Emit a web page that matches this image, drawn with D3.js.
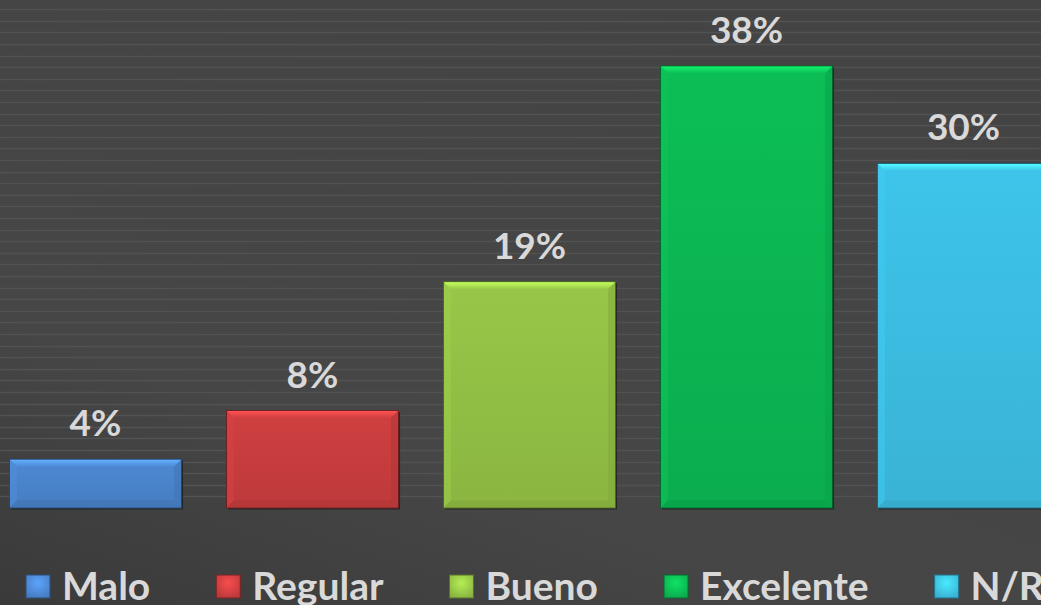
<!DOCTYPE html>
<html>
<head>
<meta charset="utf-8">
<script src="https://cdn.jsdelivr.net/npm/d3@7"></script>
<style>
  body { margin: 0; background: #444; overflow: hidden; }
  svg { display: block; font-family: Lato, "Open Sans", sans-serif; font-weight: 700; }
</style>
</head>
<body>
<svg width="1041" height="605"></svg>
<script>
// chart data (bar heights, labels as printed)
var categories = ["Malo", "Regular", "Bueno", "Excelente", "N/R"];
var values = [4.2, 8.4, 19.5, 38.1, 29.7];
var labels = ["4%", "8%", "19%", "38%", "30%"];
var gridTicks = d3.range(1, 44, 1);

var colors = ["#4a84cc", "#c83d3e", "#92c045", "#0cb752", "#3cbde2"];

var W = 1041, H = 605;
var svg = d3.select('svg');
var defs = svg.append('defs');

// background: darker toward bottom-left
var bg = defs.append('linearGradient').attr('id', 'bgGrad')
    .attr('x1', 0).attr('y1', 1).attr('x2', 0.6).attr('y2', 0);
bg.append('stop').attr('offset', 0).attr('stop-color', '#3a3a3a');
bg.append('stop').attr('offset', 0.35).attr('stop-color', '#464646');
bg.append('stop').attr('offset', 1).attr('stop-color', '#444444');
svg.append('rect').attr('width', W).attr('height', H).attr('fill', 'url(#bgGrad)');

// scales
var x = d3.scaleBand().domain(categories).range([-13, 1072]).paddingInner(0.207).paddingOuter(0.1035);
var y = d3.scaleLinear().domain([0, 38.1]).range([508, 66]);

// striped gridlines
svg.append('g').selectAll('line')
    .data(gridTicks)
    .enter().append('line')
    .attr('x1', 0).attr('x2', W)
    .attr('y1', function(d) { return Math.round(y(d)) + 0.5; })
    .attr('y2', function(d) { return Math.round(y(d)) + 0.5; })
    .attr('stroke', '#525252')
    .attr('stroke-width', 1.5);

// gradients for each bar
colors.forEach(function(c, i) {
    var g = defs.append('linearGradient').attr('id', 'barGrad' + i)
        .attr('x1', 0).attr('y1', 0).attr('x2', 0).attr('y2', 1);
    g.append('stop').attr('offset', 0).attr('stop-color', d3.color(c).brighter(0.1));
    g.append('stop').attr('offset', 1).attr('stop-color', d3.color(c).darker(0.15));
    var t = defs.append('linearGradient').attr('id', 'bevGrad' + i)
        .attr('x1', 0).attr('y1', 0).attr('x2', 0).attr('y2', 1);
    t.append('stop').attr('offset', 0).attr('stop-color', d3.color(c).brighter(0.8));
    t.append('stop').attr('offset', 1).attr('stop-color', d3.color(c).brighter(0.1));
    var s = defs.append('radialGradient').attr('id', 'legGrad' + i)
        .attr('cx', 0.5).attr('cy', 0.35).attr('r', 0.7);
    s.append('stop').attr('offset', 0).attr('stop-color', d3.color(c).brighter(0.6));
    s.append('stop').attr('offset', 1).attr('stop-color', d3.color(c).darker(0.2));
});

var bars = svg.append('g').selectAll('g')
    .data(values)
    .enter().append('g');

function bx(i) { return x(categories[i]); }

// shadow
bars.append('rect')
    .attr('x', function(d, i) { return bx(i) + 1.5; })
    .attr('y', function(d) { return y(d) + 1.5; })
    .attr('width', x.bandwidth())
    .attr('height', function(d) { return y(0) - y(d); })
    .attr('fill', '#1a1a1a').attr('opacity', 0.7);

bars.append('rect')
    .attr('x', function(d, i) { return bx(i); })
    .attr('y', function(d) { return y(d); })
    .attr('width', x.bandwidth())
    .attr('height', function(d) { return y(0) - y(d); })
    .attr('fill', function(d, i) { return 'url(#barGrad' + i + ')'; })
    .attr('stroke', function(d, i) { return d3.color(colors[i]).darker(1.8); })
    .attr('stroke-width', 1);

var b = 7;
// top bevel
bars.append('path')
    .attr('d', function(d, i) {
        var x0 = bx(i) + 0.5, x1 = x0 + x.bandwidth() - 1, y0 = y(d) + 0.5;
        return 'M' + x0 + ',' + y0 + 'L' + x1 + ',' + y0 + 'L' + (x1 - b) + ',' + (y0 + b) +
            'L' + (x0 + b) + ',' + (y0 + b) + 'Z';
    })
    .attr('fill', function(d, i) { return 'url(#bevGrad' + i + ')'; });

// left bevel
bars.append('path')
    .attr('d', function(d, i) {
        var x0 = bx(i) + 0.5, y0 = y(d) + 0.5, y1 = y(0) - 0.5;
        return 'M' + x0 + ',' + y0 + 'L' + (x0 + b) + ',' + (y0 + b) + 'L' + (x0 + b) + ',' + (y1 - b) +
            'L' + x0 + ',' + y1 + 'Z';
    })
    .attr('fill', function(d, i) { return d3.color(colors[i]).brighter(0.25); })
    .attr('opacity', 0.45);
// right bevel
bars.append('path')
    .attr('d', function(d, i) {
        var x1 = bx(i) + x.bandwidth() - 0.5, y0 = y(d) + 0.5, y1 = y(0) - 0.5;
        return 'M' + x1 + ',' + y0 + 'L' + (x1 - b) + ',' + (y0 + b) + 'L' + (x1 - b) + ',' + (y1 - b) +
            'L' + x1 + ',' + y1 + 'Z';
    })
    .attr('fill', function(d, i) { return d3.color(colors[i]).darker(0.35); })
    .attr('opacity', 0.55);
// bottom bevel
bars.append('path')
    .attr('d', function(d, i) {
        var x0 = bx(i) + 0.5, x1 = x0 + x.bandwidth() - 1, y1 = y(0) - 0.5;
        return 'M' + x0 + ',' + y1 + 'L' + x1 + ',' + y1 + 'L' + (x1 - b) + ',' + (y1 - b) +
            'L' + (x0 + b) + ',' + (y1 - b) + 'Z';
    })
    .attr('fill', function(d, i) { return d3.color(colors[i]).darker(0.4); })
    .attr('opacity', 0.55);

// value labels
svg.append('g').selectAll('text')
    .data(values)
    .enter().append('text')
    .attr('x', function(d, i) { return bx(i) + x.bandwidth() / 2; })
    .attr('y', function(d) { return y(d) - 23; })
    .attr('text-anchor', 'middle')
    .attr('fill', '#d9d9d9')
    .style('font-size', '37px')
    .text(function(d, i) { return labels[i]; });

// legend
var legend = svg.append('g');
var lx = 26;
categories.forEach(function(c, i) {
    var item = legend.append('g').attr('transform', 'translate(' + lx + ',0)');
    item.append('rect').attr('x', 0).attr('y', 575).attr('width', 24).attr('height', 23)
        .attr('fill', 'url(#legGrad' + i + ')')
        .attr('stroke', d3.color(colors[i]).darker(1.4));
    var t = item.append('text').attr('x', 36).attr('y', 600)
        .attr('fill', '#d9d9d9')
        .style('font-size', '39px')
        .text(c);
    lx += 36 + t.node().getComputedTextLength() + 66;
});
</script>
</body>
</html>
